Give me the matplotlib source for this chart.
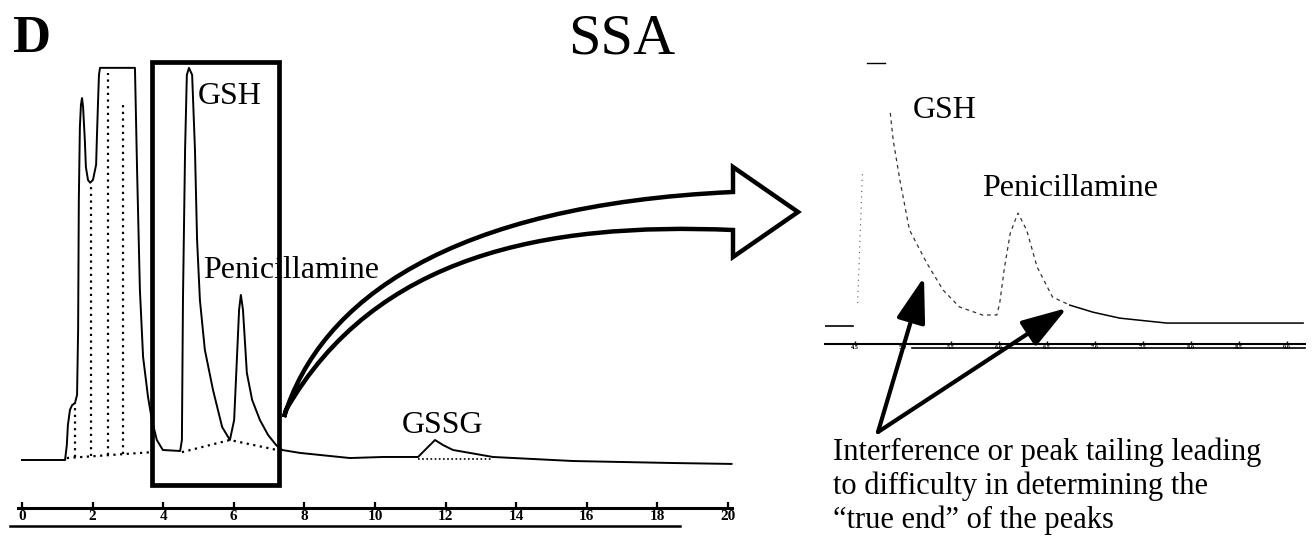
import matplotlib
matplotlib.use("Agg")
import matplotlib.pyplot as plt
import numpy as np
from matplotlib.patches import Rectangle, PathPatch, FancyArrowPatch
from matplotlib.path import Path

plt.rcParams['font.family'] = ['Liberation Serif', 'DejaVu Serif']

# main chromatogram, time (min) vs detector signal (clipped at 100)
trace_t = [0.0, 1.22, 1.27, 1.30, 1.36, 1.42, 1.50, 1.56, 1.59, 1.61, 1.64, 1.67, 1.70,
           1.73, 1.78, 1.81, 1.87, 1.93, 2.01, 2.10, 2.12, 2.15, 2.18, 2.21, 3.20,
           3.26, 3.34, 3.43, 3.57, 3.68, 3.82, 3.99, 4.48, 4.53, 4.56, 4.62, 4.67,
           4.73, 4.82, 4.90, 4.96, 5.04, 5.18, 5.41, 5.67, 5.89, 6.01, 6.07, 6.15,
           6.20, 6.26, 6.37, 6.52, 6.74, 6.97, 7.20, 7.37, 7.88, 9.29, 10.23, 11.22,
           11.50, 11.70, 11.93, 12.21, 12.69, 13.34, 15.61, 18.44, 20.1]
trace_s = [0.0, 0.0, 3.8, 8.9, 12.8, 14.0, 14.5, 16.6, 33.2, 66.3, 84.9, 90.6, 92.3,
           90.1, 81.6, 74.7, 71.4, 70.7, 71.4, 75.3, 81.6, 90.1, 98.2, 100, 100,
           74.0, 43.4, 26.3, 16.1, 10.2, 5.1, 2.55, 2.3, 5.1, 40.8, 79.1, 98.2,
           100, 98.2, 79.1, 56.1, 40.8, 28.1, 17.9, 8.4, 5.1, 10.2, 22.2, 38.3,
           42.1, 38.3, 22.2, 15.3, 10.2, 6.4, 3.8, 2.55, 1.8, 0.5, 0.77, 0.77,
           3.3, 5.1, 3.8, 2.55, 1.8, 0.77, -0.26, -0.77, -1.0]

# integration baselines and drop lines (dotted)
base1_t = [1.27, 3.68]
base1_s = [0.5, 2.0]
base2_t = [4.53, 5.89, 7.20]
base2_s = [2.0, 5.1, 2.6]
gssg_base_t = [11.22, 13.34]
gssg_base_s = [0.3, 0.3]
drop_t = [1.50, 1.95, 2.44, 2.86]
drop_top = [14.5, 70.7, 98.7, 90.5]

main_ticks = list(range(0, 21, 2))

# zoomed view (right)
zoom_base_t = [4.19, 4.48]
zoom_base_s = [-1.15, -1.15]
zoom_rise_t = [4.53, 4.58]
zoom_rise_s = [7.7, 57.7]
zoom_top_t = [4.63, 4.81]
zoom_top_s = [100, 100]
zoom_tail_t = [4.87, 4.90, 4.97, 5.07, 5.25, 5.42, 5.59, 5.83, 5.98, 6.01, 6.06, 6.12,
               6.20, 6.29, 6.40, 6.56, 6.74]
zoom_tail_s = [80.8, 70.4, 55.0, 35.8, 23.1, 12.7, 6.2, 3.1, 3.1, 7.7, 21.5, 34.6,
               42.3, 35.8, 21.5, 10.0, 6.9]
zoom_end_t = [6.74, 6.98, 7.26, 7.75, 9.17]
zoom_end_s = [6.9, 4.2, 1.9, 0.0, 0.0]
zoom_ticks = [4.5, 5.0, 5.5, 6.0, 6.5, 7.0, 7.5, 8.0, 8.5, 9.0]

note_lines = ["Interference or peak tailing leading",
              "to difficulty in determining the",
              "\u201ctrue end\u201d of the peaks"]

fig = plt.figure(figsize=(13.12, 5.46), dpi=100)

# ---- main chromatogram
ax = fig.add_axes([0, 6 / 546, 740 / 1312, 500 / 546])
ax.set_xlim(-0.623, 20.34)
ax.set_ylim(-20.4, 107.1)
ax.plot(trace_t, trace_s, color='black', lw=1.4, solid_joinstyle='round')
ax.plot(base1_t, base1_s, color='black', lw=1.6, ls=(0, (1, 2)))
ax.plot(base2_t, base2_s, color='black', lw=1.6, ls=(0, (1, 2)))
ax.plot(gssg_base_t, gssg_base_s, color='black', lw=1.2, ls=(0, (1, 1.5)))
drop_base = np.interp(drop_t, base1_t, base1_s)
ax.vlines(drop_t, drop_base, drop_top, colors='black', lw=1.6, linestyles=[(0, (1, 2))])

for sp in ['top', 'left', 'right']:
    ax.spines[sp].set_visible(False)
ax.spines['bottom'].set_position(('data', -12.2))
ax.spines['bottom'].set_bounds(-0.12, 20.1)
ax.spines['bottom'].set_linewidth(2.2)
ax.set_yticks([])
ax.set_xticks(main_ticks)
ax.set_xticklabels([str(v) for v in main_ticks], fontsize=11, fontweight='bold')
ax.tick_params(axis='x', direction='in', length=4, width=1.6, pad=1.5)
ax.plot([-0.34, 18.64], [-16.8, -16.8], color='black', lw=1.8, clip_on=False)
ax.patch.set_alpha(0)

ax.text(4.99, 92.6, "GSH", fontsize=23, ha='left', va='center')
ax.text(5.13, 48.2, "Penicillamine", fontsize=23, ha='left', va='center')
ax.text(11.9, 8.9, "GSSG", fontsize=23, ha='center', va='center')

# highlight box around GSH / penicillamine
ax.add_patch(Rectangle((3.68, -6.4), 7.28 - 3.68, 101.5 + 6.4, fill=False,
                       lw=3.4, ec='black', clip_on=False, zorder=5))

# ---- zoomed chromatogram
ax2 = fig.add_axes([825 / 1312, 186 / 546, 480 / 1312, 310 / 546])
ax2.set_xlim(4.19, 9.19)
ax2.set_ylim(-14.2, 105)
ax2.plot(zoom_base_t, zoom_base_s, color='black', lw=1.2)
ax2.plot(zoom_rise_t, zoom_rise_s, color='#555555', lw=0.8, ls=(0, (1, 4)))
ax2.plot(zoom_top_t, zoom_top_s, color='black', lw=1.0)
ax2.plot(zoom_tail_t, zoom_tail_s, color='#333333', lw=0.9, ls=(0, (3, 3)))
ax2.plot(zoom_end_t, zoom_end_s, color='black', lw=1.1)
for sp in ['top', 'left', 'right']:
    ax2.spines[sp].set_visible(False)
ax2.spines['bottom'].set_position(('data', -8.1))
ax2.spines['bottom'].set_linewidth(1.5)
ax2.set_yticks([])
ax2.set_xticks(zoom_ticks)
ax2.set_xticklabels([f"{v:.1f}" for v in zoom_ticks], fontsize=4.5, fontweight='bold')
ax2.tick_params(axis='x', direction='in', length=2, width=1, pad=0.5)
ax2.plot([5.1, 9.19], [-9.6, -9.6], color='black', lw=1.2, clip_on=False)
ax2.patch.set_alpha(0)
ax2.text(5.105, 81.9, "GSH", fontsize=23, ha='left', va='center')
ax2.text(5.83, 51.9, "Penicillamine", fontsize=23, ha='left', va='center')

# ---- overlay for titles, big arrow and notes (pixel coordinates)
ov = fig.add_axes([0, 0, 1, 1])
ov.set_xlim(0, 1312)
ov.set_ylim(546, 0)
ov.axis('off')
ov.patch.set_alpha(0)

ov.text(12, 52, "D", fontsize=38, fontweight='bold', ha='left', va='baseline')
ov.text(622, 54, "SSA", fontsize=42, ha='center', va='baseline')

verts = [(284, 417), (320, 300), (450, 205), (733, 192), (733, 167), (798, 212),
         (733, 257), (733, 230), (545, 222), (375, 255), (286, 410), (284, 417)]
codes = [Path.MOVETO, Path.CURVE4, Path.CURVE4, Path.CURVE4, Path.LINETO, Path.LINETO,
         Path.LINETO, Path.LINETO, Path.CURVE4, Path.CURVE4, Path.CURVE4, Path.CLOSEPOLY]
ov.add_patch(PathPatch(Path(verts, codes), fc='none', ec='black', lw=3.2,
                       joinstyle='miter'))

for tip in [(924, 277), (1067, 308)]:
    ov.add_patch(FancyArrowPatch((878, 432), tip,
                                 arrowstyle='-|>,head_length=1.4,head_width=0.45',
                                 mutation_scale=20, lw=3, color='black',
                                 shrinkA=0, shrinkB=0))

for i, line in enumerate(note_lines):
    ov.text(833, 460 + 34 * i, line, fontsize=22, ha='left', va='baseline')

fig.savefig("out.png", dpi=100, facecolor='white')
